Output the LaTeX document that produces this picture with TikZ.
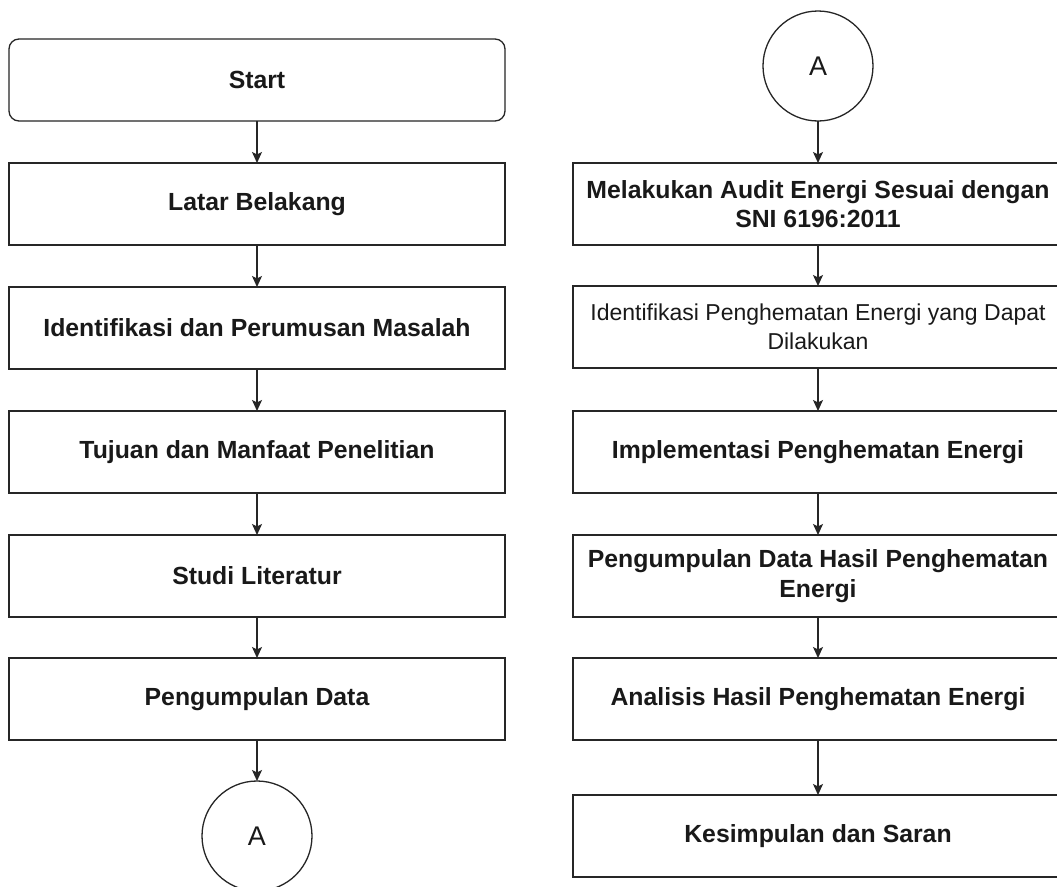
\documentclass[tikz,border=0pt]{standalone}
\usepackage{fontspec}
\setmainfont{Liberation Sans}
\usetikzlibrary{arrows.meta}
\tikzset{
  base/.style={draw=black!85, line width=1.3pt, inner sep=0pt, outer sep=0pt, text=black!90, align=center},
  procbox/.style={base, rectangle, minimum width=496pt, minimum height=82pt, font=\fontsize{24.8}{29.5}\selectfont\bfseries},
  rprocbox/.style={procbox, minimum width=490pt},
  rsmallbox/.style={rprocbox, font=\fontsize{23}{28.5}\selectfont},
  startbox/.style={procbox, rounded corners=10pt},
  conn/.style={base, circle, minimum size=110pt, font=\fontsize{27}{30}\selectfont},
  flow/.style={draw=black!85, line width=1.3pt, -{Stealth[length=11pt,width=10pt,inset=2.5pt]}}
}
\begin{document}
\begin{tikzpicture}[x=1pt,y=-1pt]
\useasboundingbox (0,0) rectangle (1057,886);
\clip (0,0) rectangle (1057,886);
\fill[white] (0,0) rectangle (1057,886);
% left column
\node[startbox] (start) at (257,80) {Start};
\node[procbox] (latar) at (257,204) {Latar Belakang};
\node[procbox] (ident) at (257,328) {Identifikasi dan Perumusan Masalah};
\node[procbox] (tujuan) at (257,452) {Tujuan dan Manfaat Penelitian};
\node[procbox] (studi) at (257,576) {Studi Literatur};
\node[procbox] (kumpul) at (257,699) {Pengumpulan Data};
\node[conn] (a1) at (257,836) {A};
% right column
\node[conn] (a2) at (818,66) {A};
\node[rprocbox] (audit) at (818,204) {Melakukan Audit Energi Sesuai dengan\\SNI 6196:2011};
\node[rsmallbox] (idhemat) at (818,327) {Identifikasi Penghematan Energi yang Dapat\\Dilakukan};
\node[rprocbox] (impl) at (818,452) {Implementasi Penghematan Energi};
\node[rprocbox] (hasil) at (818,576) {Pengumpulan Data Hasil Penghematan\\Energi};
\node[rprocbox] (analisis) at (818,699) {Analisis Hasil Penghematan Energi};
\node[rprocbox] (simpul) at (818,836) {Kesimpulan dan Saran};
% connectors
\draw[flow] (start) -- (latar);
\draw[flow] (latar) -- (ident);
\draw[flow] (ident) -- (tujuan);
\draw[flow] (tujuan) -- (studi);
\draw[flow] (studi) -- (kumpul);
\draw[flow] (kumpul) -- (a1);
\draw[flow] (a2) -- (audit);
\draw[flow] (audit) -- (idhemat);
\draw[flow] (idhemat) -- (impl);
\draw[flow] (impl) -- (hasil);
\draw[flow] (hasil) -- (analisis);
\draw[flow] (analisis) -- (simpul);
\end{tikzpicture}
\end{document}
